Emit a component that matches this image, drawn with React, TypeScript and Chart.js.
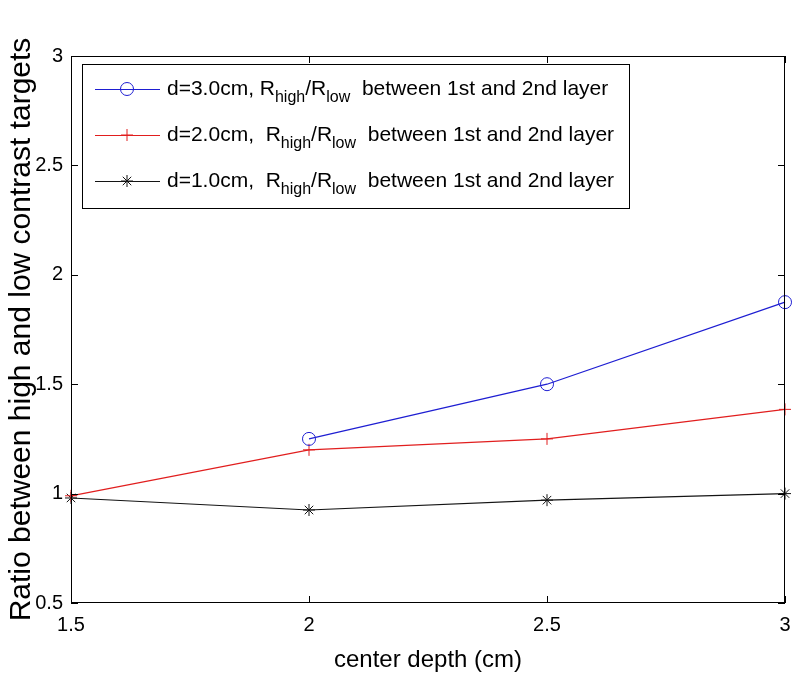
import { useEffect, useRef } from "react";
import { Chart, registerables } from "chart.js";

Chart.register(...registerables);

// ---- data ----
const depths = [1.5, 2, 2.5, 3];
const ratioD3 = [null, 1.25, 1.5, 1.875];
const ratioD2 = [0.99, 1.2, 1.25, 1.385];
const ratioD1 = [0.98, 0.925, 0.97, 1.0];
const xTicks = [1.5, 2, 2.5, 3];
const yTicks = [0.5, 1, 1.5, 2, 2.5, 3];
const seriesPrefixes = ["d=3.0cm, ", "d=2.0cm,  ", "d=1.0cm,  "];
const seriesSuffix = "  between 1st and 2nd layer";
const xTitle = "center depth (cm)";
const yTitle = "Ratio between high and low contrast targets";

const BLUE = "rgb(30,30,210)";
const RED = "rgb(225,30,30)";
const BLACK = "rgb(20,20,20)";
const FONT = "'Liberation Sans', Arial, sans-serif";

function toPoints(vals: (number | null)[]) {
  const pts: { x: number; y: number }[] = [];
  vals.forEach((v, i) => {
    if (v !== null) pts.push({ x: depths[i], y: v });
  });
  return pts;
}

function drawMarker(ctx: CanvasRenderingContext2D, style: string, x: number, y: number, color: string) {
  ctx.save();
  ctx.strokeStyle = color;
  ctx.lineWidth = 1;
  ctx.beginPath();
  if (style === "circle") {
    ctx.arc(x, y, 6.5, 0, Math.PI * 2);
  } else if (style === "cross") {
    ctx.moveTo(x - 6, y);
    ctx.lineTo(x + 6, y);
    ctx.moveTo(x, y - 6);
    ctx.lineTo(x, y + 6);
  } else {
    const r = 6;
    for (let k = 0; k < 4; k++) {
      const a = (k * Math.PI) / 4;
      ctx.moveTo(x - r * Math.cos(a), y - r * Math.sin(a));
      ctx.lineTo(x + r * Math.cos(a), y + r * Math.sin(a));
    }
  }
  ctx.stroke();
  ctx.restore();
}

const framePlugin = {
  id: "frame",
  afterDraw(chart: any) {
    const ctx = chart.ctx;
    const { left, right, top, bottom } = chart.chartArea;
    const xs = chart.scales.x;
    const ys = chart.scales.y;
    ctx.save();
    ctx.strokeStyle = "#000";
    ctx.lineWidth = 1;
    ctx.strokeRect(left + 0.5, top + 0.5, right - left - 1, bottom - top - 1);
    const tl = 7;
    ctx.beginPath();
    xTicks.forEach((v) => {
      const px = Math.round(xs.getPixelForValue(v)) + 0.5;
      ctx.moveTo(px, bottom);
      ctx.lineTo(px, bottom - tl);
      ctx.moveTo(px, top);
      ctx.lineTo(px, top + tl);
    });
    yTicks.forEach((v) => {
      const py = Math.round(ys.getPixelForValue(v)) + 0.5;
      ctx.moveTo(left, py);
      ctx.lineTo(left + tl, py);
      ctx.moveTo(right, py);
      ctx.lineTo(right - tl, py);
    });
    ctx.stroke();

    // legend
    const lx = 82, ly = 64, lw = 547, lh = 144;
    ctx.fillStyle = "#fff";
    ctx.fillRect(lx, ly, lw, lh);
    ctx.strokeStyle = "#000";
    ctx.strokeRect(lx + 0.5, ly + 0.5, lw, lh);
    const rows = [89, 135, 181];
    const colors = [BLUE, RED, BLACK];
    const styles = ["circle", "cross", "star"];
    rows.forEach((ry, i) => {
      ctx.strokeStyle = colors[i];
      ctx.lineWidth = 1;
      ctx.beginPath();
      ctx.moveTo(95, ry + 0.5);
      ctx.lineTo(160, ry + 0.5);
      ctx.stroke();
      drawMarker(ctx, styles[i], 127, ry, colors[i]);
      ctx.fillStyle = "#000";
      ctx.textBaseline = "middle";
      ctx.textAlign = "left";
      let x = 167;
      const big = `21px ${FONT}`;
      const small = `16px ${FONT}`;
      const parts: [string, boolean][] = [
        [seriesPrefixes[i] + "R", false],
        ["high", true],
        ["/R", false],
        ["low", true],
        [seriesSuffix, false],
      ];
      parts.forEach(([t, sub]) => {
        ctx.font = sub ? small : big;
        ctx.fillText(t, x, sub ? ry + 9 : ry);
        x += ctx.measureText(t).width;
      });
    });
    ctx.restore();
  },
};

export default function App() {
  const ref = useRef<HTMLCanvasElement | null>(null);
  useEffect(() => {
    document.body.style.margin = "0";
    const canvas = ref.current!;
    const fmt = (v: any) => String(Number(v));
    const chart = new Chart(canvas, {
      type: "line",
      data: {
        datasets: [
          {
            label: "d=3.0cm",
            data: toPoints(ratioD3),
            borderColor: BLUE,
            backgroundColor: "transparent",
            borderWidth: 1.2,
            pointStyle: "circle",
            pointRadius: 6.5,
            pointBorderWidth: 1,
            pointBorderColor: BLUE,
            pointBackgroundColor: "transparent",
            tension: 0,
            clip: false as any,
          },
          {
            label: "d=2.0cm",
            data: toPoints(ratioD2),
            borderColor: RED,
            backgroundColor: "transparent",
            borderWidth: 1.2,
            pointStyle: "cross",
            pointRadius: 6,
            pointBorderWidth: 1,
            pointBorderColor: RED,
            tension: 0,
            clip: false as any,
          },
          {
            label: "d=1.0cm",
            data: toPoints(ratioD1),
            borderColor: BLACK,
            backgroundColor: "transparent",
            borderWidth: 1.2,
            pointStyle: "star",
            pointRadius: 6,
            pointBorderWidth: 1,
            pointBorderColor: BLACK,
            tension: 0,
            clip: false as any,
          },
        ],
      },
      options: {
        responsive: false,
        animation: false,
        devicePixelRatio: 1,
        layout: { padding: { left: 0, top: 56, right: 13, bottom: 0 } },
        plugins: { legend: { display: false }, tooltip: { enabled: false } },
        scales: {
          x: {
            type: "linear",
            min: 1.5,
            max: 3,
            grid: { display: false, drawTicks: false },
            border: { display: false },
            afterBuildTicks: (s: any) => {
              s.ticks = xTicks.map((v) => ({ value: v }));
            },
            afterFit: (s: any) => {
              s.height = 72;
              s.paddingLeft = 0;
              s.paddingRight = 0;
            },
            ticks: {
              color: "#000",
              font: { family: FONT, size: 20 },
              padding: 10,
              maxRotation: 0,
              autoSkip: false,
              callback: fmt,
            },
            title: {
              display: true,
              text: xTitle,
              color: "#000",
              font: { family: FONT, size: 24 },
              padding: { top: 0, bottom: 0 },
            },
          },
          y: {
            type: "linear",
            min: 0.5,
            max: 3,
            grid: { display: false, drawTicks: false },
            border: { display: false },
            afterBuildTicks: (s: any) => {
              s.ticks = yTicks.map((v) => ({ value: v }));
            },
            afterFit: (s: any) => {
              s.width = 71;
              s.paddingTop = 0;
              s.paddingBottom = 0;
            },
            ticks: {
              color: "#000",
              font: { family: FONT, size: 20 },
              padding: 8,
              autoSkip: false,
              callback: fmt,
            },
            title: {
              display: true,
              text: yTitle,
              color: "#000",
              font: { family: FONT, size: 30 },
              padding: { top: 4, bottom: 0 },
            },
          },
        },
      } as any,
      plugins: [framePlugin],
    });
    return () => chart.destroy();
  }, []);
  return (
    <div style={{ position: "relative", width: 798, height: 675 }}>
      <canvas ref={ref} width={798} height={675} style={{ display: "block" }} />
    </div>
  );
}
